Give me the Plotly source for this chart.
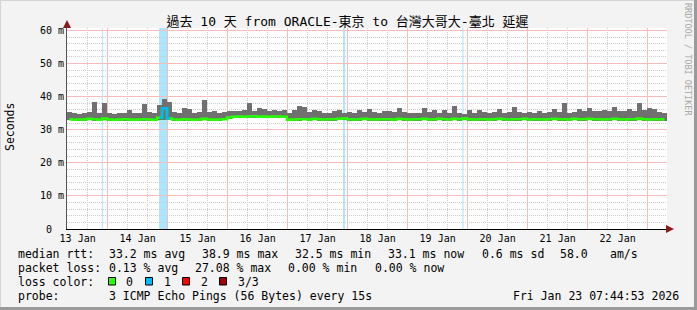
import numpy as np
import pandas as pd
import plotly.graph_objects as go

# ---------------- data ----------------
start_time = "2026-01-13 07:44:53"
end_time = "2026-01-23 07:44:53"
step_hours = 2

# median rtt per 2h step (ms)
median_ms = [
    33.2, 33.0, 33.1, 33.1, 33.3, 33.2, 33.0, 33.4, 33.1, 33.0, 33.1, 33.2, 33.1, 33.0, 33.1, 33.2,
    33.1, 33.0, 33.6, 36.5, 33.4, 33.1, 33.0, 33.2, 33.1, 33.0, 33.1, 33.3, 33.1, 33.0, 33.1, 33.2,
    33.7, 33.9, 34.0, 33.9, 34.0, 34.1, 33.9, 34.0, 33.9, 34.0, 34.0, 33.9,
    33.0, 33.1, 33.2, 33.2, 33.1, 33.3, 33.2, 33.1, 33.2, 33.2, 33.3, 33.4, 33.2, 33.1, 33.2, 33.3,
    33.2, 33.1, 33.2, 33.2,
    33.2, 33.1, 33.3, 33.2, 33.1, 33.2, 33.2, 33.3, 33.1, 33.2, 33.3, 33.2, 33.1, 33.3, 33.2, 33.4,
    33.2, 33.1, 33.2, 33.2, 33.1, 33.2, 33.3, 33.2, 33.1, 33.2, 33.2, 33.3, 33.1, 33.2, 33.2, 33.1,
    33.2, 33.3, 33.2, 33.2, 33.1, 33.3, 33.2, 33.2,
    33.3, 33.2, 33.2, 33.1, 33.2, 33.3, 33.2, 33.1, 33.2, 33.2, 33.4, 33.2, 33.1, 33.2, 33.2, 33.1,
]
# smoke upper edge (ms)
smoke_high_ms = [
    35.4, 35.0, 34.9, 35.2, 35.3, 38.5, 35.0, 38.2, 35.2, 34.9, 35.1, 35.0, 36.0, 35.2, 35.0, 37.8,
    35.3, 35.1, 37.6, 39.2, 38.5, 35.4, 35.2, 36.5, 36.2, 35.1, 35.4, 39.0, 35.3, 35.6, 35.2, 35.5,
    35.6, 35.8, 35.7, 35.9, 38.0, 35.8, 36.6, 36.4, 35.8, 35.9, 35.7, 36.0,
    35.2, 36.0, 37.2, 36.8, 35.3, 36.0, 35.8, 35.2, 35.0, 35.6, 36.0, 35.0, 35.4, 35.2, 36.0, 35.5,
    36.2, 35.4, 35.2, 35.6,
    35.8, 35.3, 36.5, 35.5, 35.0, 35.2, 35.0, 36.5, 35.3, 35.9, 35.2, 36.0, 35.1, 37.3, 35.0, 34.8,
    36.0, 35.2, 36.0, 35.3, 35.0, 35.4, 36.4, 35.2, 35.5, 37.0, 35.3, 35.1, 35.4, 35.0, 35.8, 35.2,
    35.4, 36.4, 35.3, 38.2, 35.2, 35.4, 36.3, 35.6,
    36.5, 35.8, 35.6, 36.0, 35.7, 37.0, 35.8, 35.6, 36.3, 35.7, 38.2, 35.9, 36.5, 36.2, 35.5, 35.0,
]
# smoke lower edge (ms)
smoke_low_ms = [
    32.8, 32.6, 32.7, 32.7, 32.8, 32.7, 32.6, 32.8, 32.7, 32.6, 32.7, 32.7, 32.6, 32.7, 32.6, 32.7,
    32.7, 32.6, 32.9, 33.0, 32.8, 32.7, 32.6, 32.7, 32.7, 32.6, 32.7, 32.8, 32.7, 32.6, 32.7, 32.8,
    33.3, 33.5, 33.6, 33.5, 33.6, 33.6, 33.5, 33.6, 33.5, 33.6, 33.5, 33.4,
    32.5, 32.6, 32.7, 32.8, 32.6, 32.8, 32.7, 32.6, 32.7, 32.7, 32.8, 32.9, 32.7, 32.6, 32.7, 32.8,
    32.7, 32.6, 32.7, 32.7,
    32.7, 32.6, 32.8, 32.7, 32.6, 32.7, 32.7, 32.8, 32.6, 32.7, 32.8, 32.7, 32.6, 32.8, 32.7, 32.9,
    32.7, 32.6, 32.7, 32.7, 32.6, 32.7, 32.8, 32.7, 32.6, 32.7, 32.7, 32.8, 32.6, 32.7, 32.7, 32.6,
    32.7, 32.8, 32.7, 32.7, 32.6, 32.8, 32.7, 32.7,
    32.8, 32.7, 32.7, 32.6, 32.7, 32.8, 32.7, 32.6, 32.7, 32.7, 32.9, 32.7, 32.6, 32.7, 32.7, 32.6,
]
# packet-loss events (1 of 3 lost)
loss_start = ["2026-01-13 21:40", "2026-01-14 20:35", "2026-01-17 22:10", "2026-01-19 21:55"]
loss_end = ["2026-01-13 22:05", "2026-01-15 00:10", "2026-01-17 22:55", "2026-01-19 22:20"]

y_tick_vals = [0, 10, 20, 30, 40, 50, 60]
y_tick_text = ["0\u00a0\u00a0", "10 m", "20 m", "30 m", "40 m", "50 m", "60 m"]

title_text = "過去 10 天 from ORACLE-東京 to 台灣大哥大-臺北 延遲"
rtt_labels = ["median rtt:", "33.2 ms avg", "38.9 ms max", "32.5 ms min", "33.1 ms now", "0.6 ms sd", "58.0", "am/s"]
loss_labels = ["packet loss:", "0.13 % avg", "27.08 % max", "0.00 % min", "0.00 % now"]
loss_color_names = ["0", "1", "2", "3/3"]
loss_color_values = ["#26ff00", "#00b8ff", "#ff0000", "#a00000"]
probe_label = "probe:"
probe_text = "3 ICMP Echo Pings (56 Bytes) every 15s"
stamp_text = "Fri Jan 23 07:44:53 2026"

# ---------------- layout geometry ----------------
W, H = 697, 310
ML, MR, MT, MB = 67, 30, 28, 81
PW, PH = W - ML - MR, H - MT - MB
BOTTOM = H - MB


def px(x):
    return (x - ML) / PW


def py(y):
    return (BOTTOM - y) / PH


MONO = "DejaVu Sans Mono"
CJK = "DejaVu Sans Mono, Noto Sans CJK TC"
MAJOR_GRID = "#f5bcbc"
MINOR_GRID = "#cccccc"

t0 = pd.Timestamp(start_time)
n = len(median_ms)
times = t0 + pd.to_timedelta(np.arange(n) * step_hours + step_hours / 2, unit="h")
med = np.array(median_ms)
hi = np.array(smoke_high_ms)
lo = np.array(smoke_low_ms)

# minor grid positions that do not coincide with the major ones
hours8 = pd.date_range("2026-01-13", "2026-01-24", freq="8h")
x_minor = [t for t in hours8 if t.hour != 0]
y_minor = [v for v in range(2, 61, 2) if v % 10 != 0]

fig = go.Figure()
fig.add_trace(go.Bar(
    x=times, y=hi - lo, base=lo, width=step_hours * 3600 * 1000,
    marker=dict(color="#707070", line=dict(width=0)), showlegend=False, hoverinfo="skip",
))
fig.add_trace(go.Scatter(
    x=times, y=med, mode="lines", line=dict(color="#26ff00", width=2.5, shape="hvh"),
    showlegend=False, hoverinfo="skip",
))
# median coloured blue during loss periods
ls = pd.to_datetime(loss_start)
le = pd.to_datetime(loss_end)
seg_start = times - pd.Timedelta(hours=step_hours / 2)
seg_end = times + pd.Timedelta(hours=step_hours / 2)
mask = np.zeros(n, dtype=bool)
for a, b in zip(ls, le):
    if (b - a) > pd.Timedelta(hours=1):
        mask |= (seg_end > a) & (seg_start < b)
med_loss = np.where(mask, med, np.nan)
fig.add_trace(go.Scatter(
    x=times, y=med_loss, mode="lines", line=dict(color="#00b8ff", width=2.5, shape="hvh"),
    showlegend=False, hoverinfo="skip", connectgaps=False,
))

shapes = []
for a, b in zip(loss_start, loss_end):
    shapes.append(dict(type="rect", xref="x", yref="paper", x0=a, x1=b, y0=0, y1=1,
                       fillcolor="#aae6ff", line=dict(width=0), layer="below"))

# frame (3D border)
shapes.append(dict(type="line", xref="paper", yref="paper", x0=px(0), x1=px(W), y0=py(0.5), y1=py(0.5),
                   line=dict(color="#d4d4d4", width=1)))
shapes.append(dict(type="line", xref="paper", yref="paper", x0=px(0.5), x1=px(0.5), y0=py(0), y1=py(H),
                   line=dict(color="#d4d4d4", width=1)))
shapes.append(dict(type="line", xref="paper", yref="paper", x0=px(0), x1=px(W), y0=py(H - 1.5), y1=py(H - 1.5),
                   line=dict(color="#9a9a9a", width=3)))
shapes.append(dict(type="line", xref="paper", yref="paper", x0=px(W - 1.5), x1=px(W - 1.5), y0=py(0), y1=py(H),
                   line=dict(color="#9a9a9a", width=3)))
# y axis extension up to the arrow
shapes.append(dict(type="line", xref="paper", yref="paper", x0=0, x1=0, y0=1, y1=py(24),
                   line=dict(color="#555555", width=1)))

# legend colour boxes
box_x = [108.5, 145.5, 182.5, 219.5]
for bx, col in zip(box_x, loss_color_values):
    shapes.append(dict(type="rect", xref="paper", yref="paper", x0=px(bx), x1=px(bx + 7),
                       y0=py(285), y1=py(277.5), fillcolor=col, line=dict(color="black", width=1)))

ann = []


def text(x, y, s, anchor="left", size=11.5, color="#000000", angle=0, family=MONO):
    ann.append(dict(x=px(x), y=py(y), xref="paper", yref="paper", text=s, showarrow=False,
                    xanchor=anchor, yanchor="middle", textangle=angle,
                    font=dict(family=family, size=size, color=color)))


rtt_x = [16, 107.3, 200, 293.3, 386, 480, 558.3, 607.7]
for x, s in zip(rtt_x, rtt_labels):
    text(x, 254, s)
loss_x = [16, 107.3, 192.7, 286, 372.7]
for x, s in zip(loss_x, loss_labels):
    text(x, 268, s)
text(16, 281.5, "loss color:")
for x, s in zip([124, 161.7, 199, 236], loss_color_names):
    text(x, 281.5, s)
text(16, 296, probe_label)
text(107.3, 296, probe_text)
text(681, 296, stamp_text, anchor="right")
text(10, 127, "Seconds", anchor="center", angle=-90)
text(688, 59, "RRDTOOL / TOBI OETIKER", anchor="center", angle=90, size=8.5, color="#a8a8a8")

# axis arrow heads
ann.append(dict(x=px(67), y=py(20), xref="paper", yref="paper", ax=0, ay=7, text="",
                showarrow=True, arrowhead=2, arrowsize=1.6, arrowwidth=1, arrowcolor="#8b1a1a"))
ann.append(dict(x=px(674), y=py(229), xref="paper", yref="paper", ax=-7, ay=0, text="",
                showarrow=True, arrowhead=2, arrowsize=1.6, arrowwidth=1, arrowcolor="#8b1a1a"))

fig.update_layout(
    width=W, height=H, margin=dict(l=ML, r=MR, t=MT, b=MB, pad=0),
    paper_bgcolor="#f3f3f3", plot_bgcolor="#ffffff",
    bargap=0, showlegend=False,
    title=dict(text=title_text, x=347.5 / W, xref="container", xanchor="center",
               y=1 - 21 / H, yref="container", yanchor="middle",
               font=dict(family=CJK, size=13, color="#000000")),
    shapes=shapes, annotations=ann,
    font=dict(family=MONO, color="#000000"),
)
fig.update_xaxes(
    type="date", range=[start_time, end_time],
    dtick=86400000, tick0="2026-01-13", tickformat="%d %b", ticklabelmode="period",
    showgrid=True, gridcolor=MAJOR_GRID, gridwidth=1,
    minor=dict(tickmode="array", tickvals=x_minor, showgrid=True, gridcolor=MINOR_GRID,
               griddash="1px,1px", gridwidth=1),
    showline=True, linecolor="#000000", linewidth=1, ticks="", zeroline=False,
    tickfont=dict(family=MONO, size=10, color="#000000"),
    fixedrange=True,
)
fig.update_yaxes(
    range=[0, 60.75], tickvals=y_tick_vals, ticktext=y_tick_text,
    showgrid=True, gridcolor=MAJOR_GRID, gridwidth=1,
    minor=dict(tickmode="array", tickvals=y_minor, showgrid=True, gridcolor=MINOR_GRID,
               griddash="1px,1px", gridwidth=1),
    showline=True, linecolor="#555555", linewidth=1, ticks="", zeroline=False,
    tickfont=dict(family=MONO, size=10, color="#000000"),
    fixedrange=True,
)

fig.write_html("out.html", config={"displayModeBar": False})
